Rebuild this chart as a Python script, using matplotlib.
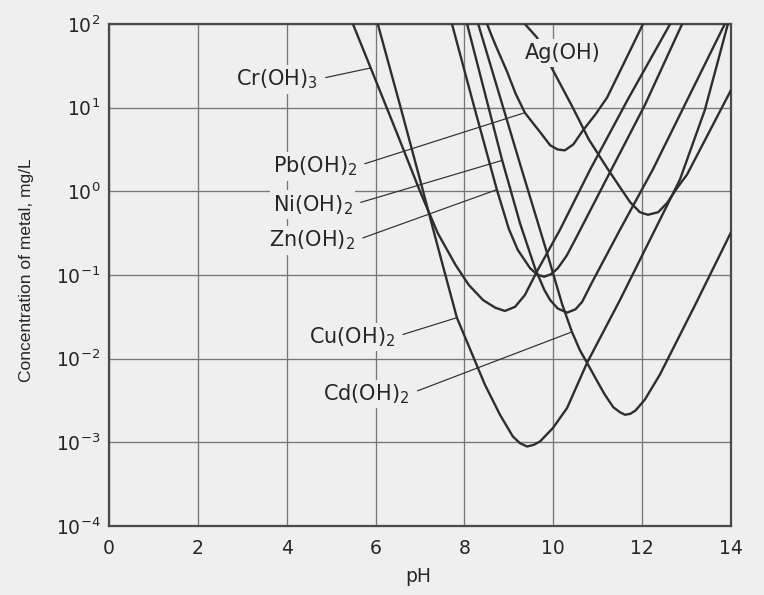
"""
Residual soluble metal concentration vs pH for hydroxide precipitation.

Recreates the textbook chart: one V-shaped solubility curve per metal on a
log concentration axis, each curve tagged with a label and a leader line.
Writes out.png.
"""

import numpy as np
import matplotlib

matplotlib.use("Agg")  # save files without a display
import matplotlib.pyplot as plt
from matplotlib.ticker import FixedLocator, NullLocator

# ---- values: pH and log10(concentration, mg/L) ----
CR_PH = [5.49, 6.00, 6.50, 7.00, 7.40, 7.80, 8.10, 8.42, 8.69, 8.91, 9.14,
         9.36, 9.63, 10.15, 10.83, 11.70, 12.63]
CR_LOGC = [2.00, 1.33, 0.67, 0.00, -0.50, -0.88, -1.12, -1.30, -1.39, -1.43,
           -1.38, -1.24, -0.96, -0.46, 0.26, 1.12, 2.00]

CU_PH = [6.05, 6.55, 7.00, 7.45, 7.83, 8.13, 8.46, 8.80, 9.09, 9.25, 9.41,
         9.56, 9.70, 9.99, 10.31, 10.76, 11.50, 12.40, 12.85, 13.41, 13.93]
CU_LOGC = [2.00, 1.03, 0.14, -0.76, -1.51, -1.89, -2.31, -2.67, -2.93, -3.01,
           -3.05, -3.03, -2.99, -2.83, -2.59, -2.05, -1.30, -0.34, 0.14, 0.97,
           2.00]

ZN_PH = [7.72, 8.24, 8.73, 9.00, 9.20, 9.48, 9.65, 9.80, 9.95, 10.10, 10.30,
         10.49, 11.21, 12.06, 12.90]
ZN_LOGC = [2.00, 0.97, 0.02, -0.45, -0.70, -0.92, -1.00, -1.02, -0.99, -0.92,
           -0.77, -0.58, 0.16, 1.03, 2.00]

NI_PH = [8.06, 8.85, 9.25, 9.59, 9.80, 9.93, 10.10, 10.31, 10.50, 10.65,
         10.87, 11.50, 12.24, 13.86]
NI_LOGC = [2.00, 0.37, -0.38, -0.92, -1.18, -1.30, -1.40, -1.45, -1.41, -1.32,
           -1.09, -0.46, 0.26, 2.00]

CD_PH = [8.31, 8.80, 9.25, 9.85, 10.20, 10.42, 10.60, 10.76, 11.00, 11.16,
         11.35, 11.50, 11.61, 11.73, 11.85, 12.06, 12.40, 13.20, 14.00]
CD_LOGC = [2.00, 1.13, 0.33, -0.72, -1.35, -1.68, -1.90, -2.05, -2.28, -2.43,
           -2.58, -2.64, -2.67, -2.66, -2.62, -2.49, -2.19, -1.35, -0.49]

PB_PH = [8.51, 8.62, 8.73, 8.96, 9.15, 9.36, 9.55, 9.70, 9.93, 10.10, 10.26,
         10.45, 10.67, 10.95, 11.21, 11.57, 12.02]
PB_LOGC = [2.00, 1.85, 1.71, 1.43, 1.17, 0.94, 0.81, 0.71, 0.55, 0.50, 0.49,
           0.56, 0.73, 0.92, 1.12, 1.51, 2.00]

AG_PH = [9.36, 9.63, 9.97, 10.44, 10.80, 11.21, 11.50, 11.73, 11.95, 12.13,
         12.36, 12.56, 12.80, 13.01, 13.50, 14.00]
AG_LOGC = [2.00, 1.84, 1.47, 1.00, 0.62, 0.28, 0.05, -0.13, -0.25, -0.28,
           -0.25, -0.14, 0.05, 0.20, 0.70, 1.21]

X_TICKS = [0, 2, 4, 6, 8, 10, 12, 14]
Y_TICKS = [1e-4, 1e-3, 1e-2, 1e-1, 1e0, 1e1, 1e2]

CURVES = {
    "Cr": (CR_PH, CR_LOGC),
    "Cu": (CU_PH, CU_LOGC),
    "Zn": (ZN_PH, ZN_LOGC),
    "Ni": (NI_PH, NI_LOGC),
    "Cd": (CD_PH, CD_LOGC),
    "Pb": (PB_PH, PB_LOGC),
    "Ag": (AG_PH, AG_LOGC),
}

# label text, text anchor (pH, log10 C; right end of text), pH where the leader meets the curve
LABELS = {
    "Cr": ("Cr(OH)$_3$", 4.70, 1.34, 5.89),
    "Pb": ("Pb(OH)$_2$", 5.58, 0.30, 9.36),
    "Ni": ("Ni(OH)$_2$", 5.49, -0.16, 8.85),
    "Zn": ("Zn(OH)$_2$", 5.54, -0.59, 8.73),
    "Cu": ("Cu(OH)$_2$", 6.44, -1.74, 7.83),
    "Cd": ("Cd(OH)$_2$", 6.77, -2.42, 10.42),
}
AG_LABEL = ("Ag(OH)", 10.22, 1.65)

BG = "#efefef"
GRID = "#7a7676"
FRAME = "#4a4a4a"
INK = "#2e2e2e"
TEXT = "#262626"
FS = 15


def main():
    plt.rcParams["font.family"] = ["DejaVu Sans"]
    plt.rcParams["mathtext.default"] = "regular"

    fig = plt.figure(figsize=(7.64, 5.95), dpi=100, facecolor=BG)
    ax = fig.add_axes([109 / 764, 1 - 526 / 595, 622 / 764, 502 / 595])
    ax.set_facecolor(BG)

    ax.set_xlim(0, 14)
    ax.set_yscale("log")
    ax.set_ylim(1e-4, 1e2)
    ax.xaxis.set_major_locator(FixedLocator(X_TICKS))
    ax.yaxis.set_major_locator(FixedLocator(Y_TICKS))
    ax.yaxis.set_minor_locator(NullLocator())
    ax.grid(True, color=GRID, lw=0.95)
    ax.set_axisbelow(True)
    ax.tick_params(length=0, labelsize=13.5, colors=TEXT)
    ax.tick_params(axis="x", pad=9)
    ax.tick_params(axis="y", pad=6)
    for sp in ax.spines.values():
        sp.set_linewidth(1.6)
        sp.set_color(FRAME)

    for name, (ph, logc) in CURVES.items():
        ax.plot(ph, 10 ** np.asarray(logc), color=INK, lw=1.7, zorder=3,
                solid_joinstyle="round")

    box = dict(boxstyle="square,pad=0.12", fc=BG, ec="none")
    for name, (text, tx, ty, tip) in LABELS.items():
        ph, logc = CURVES[name]
        tip_logc = np.interp(tip, ph, logc)
        ax.annotate(text, xy=(tip, 10 ** tip_logc), xytext=(tx, 10 ** ty),
                    ha="right", va="center", fontsize=FS, color=TEXT, bbox=box,
                    zorder=5,
                    arrowprops=dict(arrowstyle="-", lw=0.85, color=INK,
                                    relpos=(1.0, 0.5), shrinkA=4, shrinkB=0))

    text, tx, ty = AG_LABEL
    ax.text(tx, 10 ** ty, text, ha="center", va="center", fontsize=FS,
            color=TEXT, zorder=5,
            bbox=dict(boxstyle="square,pad=0.2", fc=BG, ec="none"))

    ax.set_xlabel("pH", fontsize=13.5, color=TEXT)
    ax.xaxis.set_label_coords(0.497, -0.082)
    ax.set_ylabel("Concentration of metal, mg/L", fontsize=12.5, color=TEXT,
                  family=["Liberation Sans Narrow", "Liberation Sans"])
    ax.yaxis.set_label_coords(-0.12, 0.51)

    fig.savefig("out.png", dpi=100, facecolor=BG)
    plt.close(fig)


if __name__ == "__main__":
    main()
